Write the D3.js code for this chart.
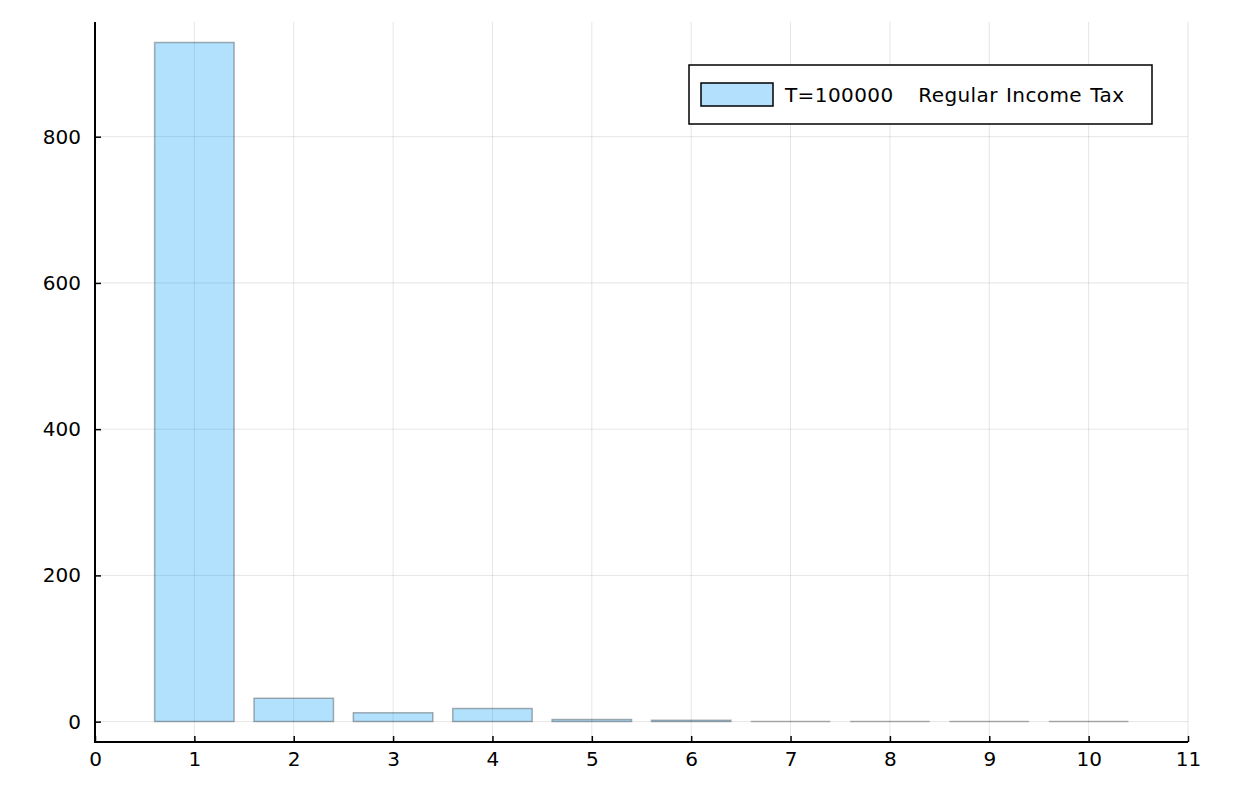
<!DOCTYPE html>
<html><head><meta charset="utf-8">
<script src="https://cdn.jsdelivr.net/npm/d3@7"></script>
<style>body{margin:0;background:#fff}svg{display:block}text{font-family:"DejaVu Sans",sans-serif}</style>
</head><body><svg id="c" width="1240" height="804"></svg>
<script>
const categories = [1,2,3,4,5,6,7,8,9,10];
const values = [929, 32, 12, 18, 3, 2, 0, 0, 0, 0];
const xTicks = [0,1,2,3,4,5,6,7,8,9,10,11];
const yTicks = [0,200,400,600,800];
const seriesName = "T=100000   Regular Income Tax";

const svg = d3.select("#c");
const L = 95, R = 1188, T = 22, B = 742;
const x = d3.scaleLinear().domain([0,11]).range([L,R]);
const y = d3.scaleLinear().domain([-27.87, 956.87]).range([B,T]);

// grid
svg.append("g").selectAll("line").data(xTicks).join("line")
  .attr("x1",d=>x(d)).attr("x2",d=>x(d)).attr("y1",T).attr("y2",B)
  .attr("stroke","#000").attr("stroke-opacity",0.1).attr("stroke-width",1);
svg.append("g").selectAll("line").data(yTicks).join("line")
  .attr("x1",L).attr("x2",R).attr("y1",d=>y(d)).attr("y2",d=>y(d))
  .attr("stroke","#000").attr("stroke-opacity",0.1).attr("stroke-width",1);

// bars (paths so zero-height bars still show their outline)
svg.append("g").selectAll("path").data(categories).join("path")
  .attr("d",(d,i)=>{
    const x0 = x(d-0.4), w = x(0.8)-x(0), y0 = y(0), y1 = y(values[i]);
    return `M${x0},${y0}H${x0+w}V${y1}H${x0}Z`;
  })
  .attr("fill","#009af9").attr("fill-opacity",0.3)
  .attr("stroke","#000").attr("stroke-opacity",0.3).attr("stroke-width",1.5);

// axes
const xAxis = d3.axisBottom(x).tickValues(xTicks).tickSize(-6).tickPadding(10).tickFormat(d3.format("d"));
const gx = svg.append("g").attr("transform",`translate(0,${B})`).call(xAxis);
const yAxis = d3.axisLeft(y).tickValues(yTicks).tickSize(-6).tickPadding(14).tickFormat(d3.format("d"));
const gy = svg.append("g").attr("transform",`translate(${L},0)`).call(yAxis);
[gx,gy].forEach(g=>{
  g.attr("font-size",null).attr("font-family",null);
  g.select(".domain").remove();
  g.selectAll("line").attr("stroke","#000").attr("stroke-width",1.5);
  g.selectAll("text").style("font-size","20px").attr("fill","#000");
});
gx.selectAll("text").attr("dy","0.71em");
svg.append("line").attr("x1",L).attr("x2",L).attr("y1",T).attr("y2",B+1).attr("stroke","#000").attr("stroke-width",2);
svg.append("line").attr("x1",L-1).attr("x2",R).attr("y1",B).attr("y2",B).attr("stroke","#000").attr("stroke-width",2);

// legend
const lg = svg.append("g");
lg.append("rect").attr("x",689).attr("y",65).attr("width",463).attr("height",59)
  .attr("fill","#fff").attr("stroke","#000").attr("stroke-width",1.5);
lg.append("rect").attr("x",701).attr("y",83).attr("width",72).attr("height",23)
  .attr("fill","#b3e0fd").attr("stroke","#000").attr("stroke-width",1.5);
lg.append("text").attr("x",785).attr("y",95).attr("dy","0.35em")
  .style("font-size","20px").attr("fill","#000").style("white-space","pre")
  .style("letter-spacing","0.4px").style("word-spacing","1.5px")
  .text(seriesName);
</script></body></html>
